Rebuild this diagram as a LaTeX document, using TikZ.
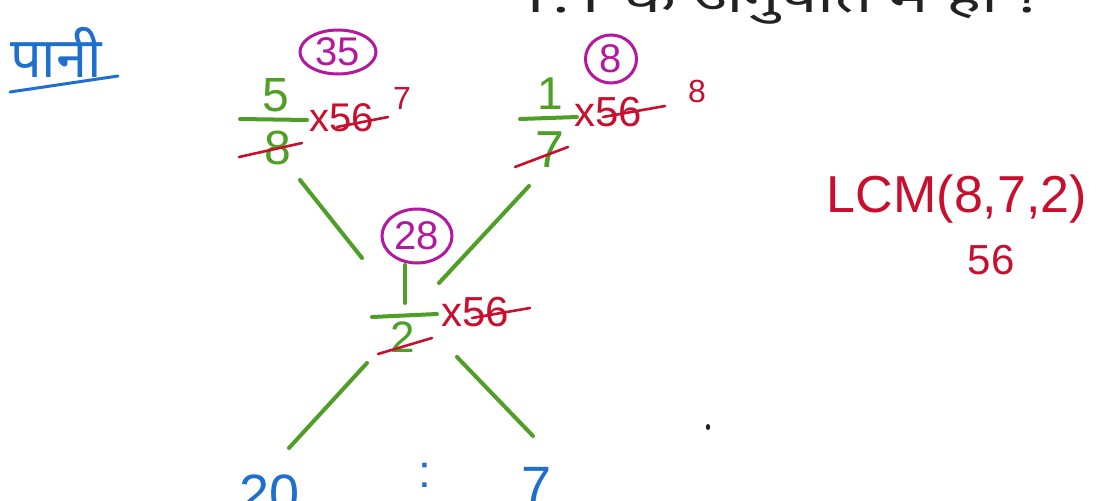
\documentclass[tikz,border=0pt]{standalone}
\usepackage{fontspec}
\setmainfont{Liberation Sans}
\newfontfamily\deva[Script=Devanagari]{Noto Sans}
\usetikzlibrary{shapes.geometric}
\definecolor{hgreen}{HTML}{4F9E25}
\definecolor{hred}{HTML}{C8102E}
\definecolor{hmag}{HTML}{B5179E}
\definecolor{hblue}{HTML}{1F6FCF}
\definecolor{hink}{HTML}{222222}
\tikzset{
  grn/.style={draw=hgreen, line width=4pt, line cap=round},
  strike/.style={draw=hred, line width=2.6pt, line cap=round},
  ring/.style={ellipse, draw=hmag, line width=3pt, text=hmag, inner sep=0pt},
  gtxt/.style={text=hgreen, inner sep=0pt},
  rtxt/.style={text=hred, inner sep=0pt},
  btxt/.style={text=hblue, inner sep=0pt},
}
\begin{document}
\begin{tikzpicture}[x=1pt,y=-1pt]
\useasboundingbox (0,0) rectangle (1096,501);
\clip (0,0) rectangle (1096,501);
\fill[white] (0,0) rectangle (1096,501);

% cut-off header line
\node[anchor=base west, text=hink, inner sep=0pt, font=\deva\fontsize{44}{50}\selectfont] (head) at (515,12) {\scalebox{1.5}[1]{1:1 के अनुपात में हो ?}};

% title
\node[btxt, font=\deva\fontsize{56}{60}\selectfont] (pani) at (56,52) {पानी};
\draw[draw=hblue, line width=3pt, line cap=round] (10,92) -- (118,76);

% top-left fraction 5/8
\node[ring, minimum width=76pt, minimum height=44pt, font=\fontsize{40}{44}\selectfont] (c35) at (338,52) {35};
\node[gtxt, font=\fontsize{48}{52}\selectfont] (n5) at (276,95) {5};
\draw[grn] (240,119) -- (307,120);
\node[gtxt, font=\fontsize{48}{52}\selectfont] (d8) at (278,148) {8};
\draw[strike] (239,157) -- (302,143);
\node[rtxt, anchor=west, font=\fontsize{40}{46}\selectfont] (m1) at (309,118) {x56};
\draw[strike] (337,127) -- (388,117);
\node[rtxt, font=\fontsize{32}{36}\selectfont] (s7) at (402,98) {7};

% top-right fraction 1/7
\node[ring, minimum width=51pt, minimum height=48pt, font=\fontsize{40}{44}\selectfont] (c8) at (611,59) {8};
\node[gtxt, font=\fontsize{46}{50}\selectfont] (n1) at (550,94) {1};
\draw[grn] (520,119) -- (577,117);
\node[gtxt, font=\fontsize{52}{56}\selectfont] (d7) at (550,150) {7};
\draw[strike] (515,167) -- (568,147);
\node[rtxt, anchor=west, font=\fontsize{42}{46}\selectfont] (m2) at (574,112) {x56};
\draw[strike] (603,117) -- (665,106);
\node[rtxt, font=\fontsize{32}{36}\selectfont] (s8) at (697,91) {8};

% middle fraction ?/2
\node[ring, minimum width=70pt, minimum height=54pt, font=\fontsize{40}{44}\selectfont] (c28) at (417,236) {28};
\node[gtxt, font=\fontsize{44}{48}\selectfont] (d2) at (403,337) {2};
\draw[grn] (372,317) -- (437,314);
\draw[strike] (378,354) -- (432,338);
\node[rtxt, anchor=west, font=\fontsize{42}{46}\selectfont] (m3) at (441,312) {x56};
\draw[strike] (472,318) -- (530,308);

% connectors
\coordinate (a1) at (300,180); \coordinate (a2) at (362,258);
\coordinate (b1) at (529,186); \coordinate (b2) at (439,283);
\coordinate (v1) at (405,265); \coordinate (v2) at (405,303);
\coordinate (l1) at (367,363); \coordinate (l2) at (289,448);
\coordinate (r1) at (457,357); \coordinate (r2) at (533,436);
\draw[grn] (a1) -- (a2);
\draw[grn] (b1) -- (b2);
\draw[grn] (v1) -- (v2);
\draw[grn] (l1) -- (l2);
\draw[grn] (r1) -- (r2);

% result ratio
\node[btxt, font=\fontsize{54}{58}\selectfont] (r20) at (270,494) {20};
\node[btxt, font=\fontsize{46}{52}\selectfont] (col) at (425,475) {:};
\node[btxt, font=\fontsize{54}{58}\selectfont] (r7) at (537,486) {7};

% LCM
\node[rtxt, font=\fontsize{52}{58}\selectfont] (lcm) at (957,199) {LCM(8,7,2)};
\node[rtxt, font=\fontsize{42}{48}\selectfont] (l56) at (991,260) {56};

% stray dot
\fill[hink] (708,427) ellipse (2.2pt and 3pt);
\end{tikzpicture}
\end{document}
